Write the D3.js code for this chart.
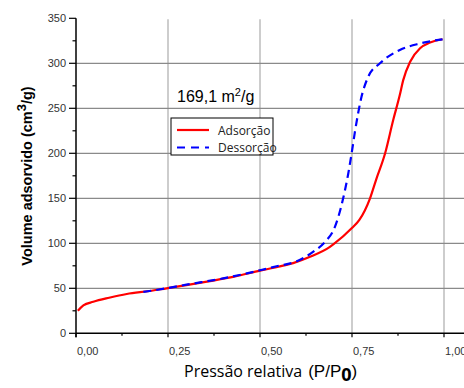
<!DOCTYPE html>
<html>
<head>
<meta charset="utf-8">
<script src="https://cdn.jsdelivr.net/npm/d3@7"></script>
<style>
  body { margin: 0; background: #fff; }
  svg { display: block; font-family: "Liberation Sans", Arial, sans-serif; }
</style>
</head>
<body>
<div id="chart"></div>
<script>
// isotherm
const adsP = [0.005, 0.02, 0.047, 0.09, 0.138, 0.2, 0.246, 0.3, 0.364, 0.43, 0.5, 0.55, 0.59, 0.636, 0.69, 0.7, 0.749, 0.77, 0.799, 0.815, 0.84, 0.862, 0.88, 0.889, 0.908, 0.935, 0.962, 0.996];
const adsV = [25, 31, 35, 39.5, 43.7, 47, 50, 53.5, 58, 63, 69.6, 74, 78, 85, 96, 99, 116.7, 126, 150, 170, 200, 237, 265, 281, 301.8, 316.7, 323, 326.7];
const desP = [0.183, 0.246, 0.3, 0.4, 0.5, 0.545, 0.6, 0.645, 0.68, 0.7, 0.726, 0.74, 0.749, 0.758, 0.776, 0.794, 0.826, 0.88, 0.935, 0.996];
const desV = [46, 50, 54, 61, 70, 74.5, 80, 90.7, 103, 114.8, 150, 177.8, 200, 224, 263, 285, 300, 314.8, 322, 326.7];
const xTicks = [0, 0.25, 0.5, 0.75, 1.0];
const xMinor = [0.125, 0.375, 0.625, 0.875];
const yTicks = [0, 50, 100, 150, 200, 250, 300, 350];
const yMinor = [25, 75, 125, 175, 225, 275, 325];
const seriesNames = ["Adsorção", "Dessorção"];

const width = 464, height = 388;
const margin = {top: 18.3, right: 20, bottom: 54.7, left: 76};

const svg = d3.select("#chart").append("svg")
  .attr("width", width)
  .attr("height", height);

const x = d3.scaleLinear().domain([0, 1]).range([margin.left, 444]);
const y = d3.scaleLinear().domain([0, 350]).range([height - margin.bottom, margin.top]);

const fmt = d => d3.format(".2f")(d).replace(".", ",");

// grid
svg.append("g").selectAll("line")
  .data(xTicks.slice(1))
  .join("line")
  .attr("x1", d => x(d)).attr("x2", d => x(d))
  .attr("y1", y(350) + 1).attr("y2", y(0))
  .attr("stroke", "#bdbdbd").attr("stroke-width", 1.5);

svg.append("g").selectAll("line")
  .data(yTicks.filter(d => d > 0 && d < 350))
  .join("line")
  .attr("x1", x(0)).attr("x2", width)
  .attr("y1", d => y(d)).attr("y2", d => y(d))
  .attr("stroke", "#8a8a8a").attr("stroke-width", 1.2);

// axes
svg.append("line")
  .attr("x1", x(0)).attr("x2", width)
  .attr("y1", y(0)).attr("y2", y(0))
  .attr("stroke", "#000").attr("stroke-width", 1.5);
svg.append("line")
  .attr("x1", x(0)).attr("x2", x(0))
  .attr("y1", y(350)).attr("y2", y(0) + 4)
  .attr("stroke", "#000").attr("stroke-width", 1.5);

svg.append("g").selectAll("line")
  .data(yTicks).join("line")
  .attr("x1", x(0) - 7).attr("x2", x(0))
  .attr("y1", d => y(d)).attr("y2", d => y(d))
  .attr("stroke", "#000").attr("stroke-width", 1.2);
svg.append("g").selectAll("line")
  .data(yMinor).join("line")
  .attr("x1", x(0) - 3.5).attr("x2", x(0))
  .attr("y1", d => y(d)).attr("y2", d => y(d))
  .attr("stroke", "#000").attr("stroke-width", 1.2);
svg.append("g").selectAll("line")
  .data(xTicks).join("line")
  .attr("x1", d => x(d)).attr("x2", d => x(d))
  .attr("y1", y(0)).attr("y2", y(0) + 4)
  .attr("stroke", "#000").attr("stroke-width", 1.2);
svg.append("g").selectAll("line")
  .data(xMinor).join("line")
  .attr("x1", d => x(d)).attr("x2", d => x(d))
  .attr("y1", y(0)).attr("y2", y(0) + 2.5)
  .attr("stroke", "#000").attr("stroke-width", 1.2);

svg.append("g").selectAll("text")
  .data(yTicks).join("text")
  .attr("x", x(0) - 10)
  .attr("y", d => y(d) + 4)
  .attr("text-anchor", "end")
  .attr("font-size", 11)
  .attr("fill", "#333")
  .text(d => d);

svg.append("g").selectAll("text")
  .data(xTicks).join("text")
  .attr("x", d => x(d) + 1)
  .attr("y", y(0) + 22)
  .attr("font-size", 11)
  .attr("fill", "#333")
  .text(fmt);

// titles
const yt = svg.append("text")
  .attr("transform", `translate(32, 176) rotate(-90)`)
  .attr("text-anchor", "middle")
  .attr("font-size", 14.5)
  .attr("font-weight", "bold")
  .attr("fill", "#000");
yt.append("tspan").text("Volume adsorvido (cm");
yt.append("tspan").attr("dy", -6).attr("font-size", 13).text("3");
yt.append("tspan").attr("dy", 6).text("/g)");

const xt = svg.append("text")
  .attr("x", 184)
  .attr("y", 377)
  .attr("font-family", "'Open Sans', sans-serif")
  .attr("font-size", 16)
  .attr("fill", "#000");
xt.append("tspan").text("Pressão relativa");
xt.append("tspan").attr("dx", 6).attr("font-family", "'Liberation Sans', Arial, sans-serif").attr("font-size", 17).text("(P/P");
xt.append("tspan").attr("dy", 4).attr("font-size", 18).attr("font-weight", "bold").text("0");
xt.append("tspan").attr("dy", -4).attr("font-family", "'Liberation Sans', Arial, sans-serif").attr("font-size", 17).text(")");

const at = svg.append("text")
  .attr("x", 177).attr("y", 102)
  .attr("font-size", 16)
  .attr("fill", "#000");
at.append("tspan").text("169,1 m");
at.append("tspan").attr("dy", -6).attr("font-size", 11).text("2");
at.append("tspan").attr("dy", 6).text("/g");

// curves
const line = d3.line()
  .x(d => x(d[0]))
  .y(d => y(d[1]))
  .curve(d3.curveMonotoneX);

svg.append("path")
  .datum(adsP.map((p, i) => [p, adsV[i]]))
  .attr("d", line)
  .attr("fill", "none")
  .attr("stroke", "#ff0000")
  .attr("stroke-width", 2.2);

svg.append("path")
  .datum(desP.map((p, i) => [p, desV[i]]))
  .attr("d", line)
  .attr("fill", "none")
  .attr("stroke", "#0000ff")
  .attr("stroke-width", 2.2)
  .attr("stroke-dasharray", "8,5");

// legend
const lg = svg.append("g");
lg.append("rect")
  .attr("x", 171).attr("y", 118)
  .attr("width", 102).attr("height", 37)
  .attr("fill", "#fff").attr("stroke", "#000").attr("stroke-width", 1);
const legendColors = ["#ff0000", "#0000ff"];
seriesNames.forEach((name, i) => {
  const ly = 130 + i * 17.5;
  lg.append("line")
    .attr("x1", 177).attr("x2", 209)
    .attr("y1", ly).attr("y2", ly)
    .attr("stroke", legendColors[i])
    .attr("stroke-width", 2.2)
    .attr("stroke-dasharray", i ? "8,6" : null);
  lg.append("text")
    .attr("x", 218).attr("y", ly + 4.5)
    .attr("font-family", "'Open Sans', sans-serif")
    .attr("font-size", 12)
    .attr("fill", "#222")
    .text(name);
});
</script>
</body>
</html>
